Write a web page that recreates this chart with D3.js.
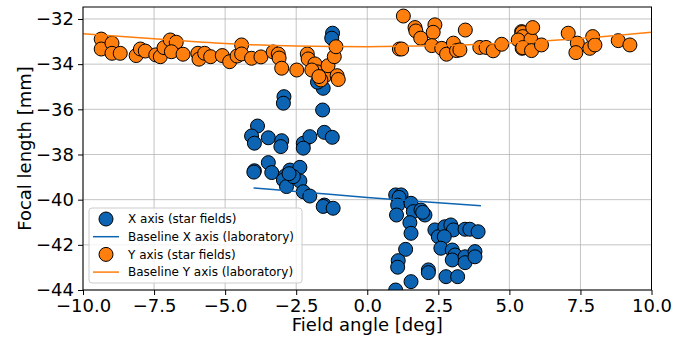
<!DOCTYPE html>
<html>
<head>
<meta charset="utf-8">
<script src="https://cdn.jsdelivr.net/npm/d3@7"></script>
<style>
  html, body { margin: 0; padding: 0; background: #fff; }
  svg { display: block; font-family: "DejaVu Sans", sans-serif; }
</style>
</head>
<body>
<svg id="chart" width="697" height="344"></svg>
<script>
// Focal length measured on star fields, X axis
const xStarAngle = [-1.22, -1.25, -2.93, -2.95, -1.55, -1.57, -1.75,
  -3.86, -4.07, -3.97, -3.48, -3.01, -3.04, -2.25, -2.02, -2.25, -1.51, -1.23,
  -3.97, -3.99, -3.48, -3.36, -2.72, -2.89, -2.37, -2.95, -2.84, -2.37, -2.60, -2.75,
  -2.25, -2.02, -1.51, -1.55, -1.20,
  1.00, 1.19, 1.12, 1.07, 1.03, 1.54, 1.62, 1.89, 2.03, 1.95, 1.50, 1.54, 1.35, 1.09, 1.07,
  1.54, 1.00, 2.15, 2.15, 2.38, 2.50, 2.73, 2.94, 3.03, 2.71, 2.59, 2.99, 3.09, 2.99,
  3.44, 3.61, 3.90, 3.44, 3.44, 3.79, 3.79, 2.77, 3.18];
const xStarFocal = [-32.63, -32.85, -35.44, -35.73, -35.07, -36.03, -34.80,
  -36.74, -37.18, -37.50, -37.26, -37.39, -37.65, -37.50, -37.21, -37.72, -37.02, -37.24,
  -38.72, -38.78, -38.36, -38.80, -38.69, -38.95, -38.57, -39.13, -39.42, -39.17, -38.98, -38.85,
  -39.65, -39.84, -40.24, -40.30, -40.38,
  -39.79, -39.79, -39.90, -40.24, -40.68, -40.16, -40.53, -40.46, -40.68, -40.56, -41.02, -41.49, -42.20, -42.70, -42.99,
  -43.63, -44.00, -43.11, -43.23, -41.34, -41.64, -41.20, -41.12, -41.34, -41.64, -42.15, -42.23, -42.45, -42.67,
  -41.31, -41.31, -41.42, -42.53, -42.79, -42.30, -42.53, -43.41, -43.41];

// Focal length measured on star fields, Y axis
const yStarAngle = [-9.36, -9.36, -8.98, -8.98, -8.69, -8.13, -7.98, -7.81, -7.44, -7.28, -7.15,
  -6.93, -6.72, -6.89, -6.48, -5.96, -5.92, -5.72, -5.51, -5.10, -4.84, -4.58, -4.42, -4.42,
  -4.07, -3.74, -3.31, -3.13, -3.10, -3.01, -2.48, -2.11, -2.08, -1.84, -1.76, -1.49, -1.38,
  -1.16, -1.10, -1.06, -1.02, -1.63, -1.95, -1.70,
  1.27, 1.13, 1.21, 1.68, 1.71, 1.88, 2.38, 2.32, 2.27, 2.62, 2.79, 3.03, 3.14, 3.26, 3.45,
  3.96, 4.18, 4.43, 4.73, 5.43, 5.45, 5.47, 5.31, 5.76, 5.82, 5.45, 5.47, 5.78, 6.13,
  7.07, 7.39, 7.34, 7.83, 7.93, 8.01, 8.83, 9.24];
const yStarFocal = [-32.89, -33.33, -33.07, -33.52, -33.52, -33.62, -33.33, -33.42, -33.59, -33.67, -33.27,
  -32.93, -33.03, -33.45, -33.56, -33.52, -33.78, -33.52, -33.67, -33.62, -33.89, -33.64, -33.15, -33.55,
  -33.74, -33.68, -33.46, -33.55, -33.73, -34.18, -34.26, -33.55, -33.77, -33.99, -34.34, -34.52, -34.07,
  -33.67, -33.23, -34.51, -34.68, -34.70, -34.26, -34.55,
  -31.87, -33.33, -33.33, -32.38, -32.53, -32.85, -32.26, -32.59, -33.18, -33.30, -33.56, -33.07, -33.40, -33.37, -32.49,
  -33.26, -33.26, -33.41, -33.12, -32.56, -32.60, -32.78, -32.93, -32.90, -32.38, -33.30, -33.27, -33.40, -33.15,
  -32.63, -33.07, -33.49, -33.30, -32.78, -33.15, -32.96, -33.15];

// Laboratory baselines
const baseXAngle = [-4.0, -2.0, 0.0, 2.0, 4.0];
const baseXFocal = [-39.48, -39.69, -39.90, -40.09, -40.27];
const baseYAngle = [-10, -7.5, -5, -2.5, 0, 2.5, 5, 7.5, 10];
const baseYFocal = [-32.65, -32.88, -33.09, -33.20, -33.23, -33.18, -33.06, -32.86, -32.59];

// Axis ticks
const xTicks = [-10, -7.5, -5, -2.5, 0, 2.5, 5, 7.5, 10];
const yTicks = [-44, -42, -40, -38, -36, -34, -32];

const blue = "#0d64b2";
const orange = "#ff7f0e";

const svg = d3.select("#chart");
const plotLeft = 83, plotRight = 651.5, plotTop = 7, plotBottom = 290;

const x = d3.scaleLinear().domain([-10, 10]).range([plotLeft, plotRight]);
const y = d3.scaleLinear().domain([-44, -31.47]).range([plotBottom, plotTop]);

svg.append("defs").append("clipPath").attr("id", "plot-clip")
  .append("rect").attr("x", plotLeft).attr("y", plotTop)
  .attr("width", plotRight - plotLeft).attr("height", plotBottom - plotTop);

// grid
const grid = svg.append("g").attr("stroke", "#b0b0b0").attr("stroke-opacity", 0.75).attr("stroke-width", 1);
grid.selectAll(".gx").data(xTicks).join("line")
  .attr("x1", d => x(d)).attr("x2", d => x(d)).attr("y1", plotTop).attr("y2", plotBottom);
grid.selectAll(".gy").data(yTicks).join("line")
  .attr("y1", d => y(d)).attr("y2", d => y(d)).attr("x1", plotLeft).attr("x2", plotRight);

// axes
const fmtX = d => d3.format(".1f")(d).replace("-", "\u2212");
const fmtY = d => d3.format("d")(d).replace("-", "\u2212");

const xAxis = svg.append("g").attr("transform", `translate(0,${plotBottom})`)
  .call(d3.axisBottom(x).tickValues(xTicks).tickFormat(fmtX).tickSize(5).tickPadding(4).tickSizeOuter(0));
const yAxis = svg.append("g").attr("transform", `translate(${plotLeft},0)`)
  .call(d3.axisLeft(y).tickValues(yTicks).tickFormat(fmtY).tickSize(5).tickPadding(4).tickSizeOuter(0));
[xAxis, yAxis].forEach(g => {
  g.select(".domain").remove();
  g.selectAll("line").attr("stroke", "#000").attr("stroke-width", 1);
  g.selectAll("text").attr("fill", "#000").style("font-size", "18px").style("font-family", "DejaVu Sans");
});
xAxis.selectAll("text").attr("dy", "0.72em");

// data layer
const plot = svg.append("g").attr("clip-path", "url(#plot-clip)");
const line = d3.line().x(d => x(d[0])).y(d => y(d[1])).curve(d3.curveMonotoneX);

plot.append("g").selectAll("circle").data(d3.zip(xStarAngle, xStarFocal)).join("circle")
  .attr("cx", d => x(d[0])).attr("cy", d => y(d[1])).attr("r", 7)
  .attr("fill", blue).attr("stroke", "#000").attr("stroke-width", 1);
plot.append("path").datum(d3.zip(baseXAngle, baseXFocal))
  .attr("d", line).attr("fill", "none").attr("stroke", blue).attr("stroke-width", 1.5);
plot.append("g").selectAll("circle").data(d3.zip(yStarAngle, yStarFocal)).join("circle")
  .attr("cx", d => x(d[0])).attr("cy", d => y(d[1])).attr("r", 7)
  .attr("fill", orange).attr("stroke", "#000").attr("stroke-width", 1);
plot.append("path").datum(d3.zip(baseYAngle, baseYFocal))
  .attr("d", line).attr("fill", "none").attr("stroke", orange).attr("stroke-width", 1.5);

// frame
svg.append("rect").attr("x", plotLeft).attr("y", plotTop)
  .attr("width", plotRight - plotLeft).attr("height", plotBottom - plotTop)
  .attr("fill", "none").attr("stroke", "#000").attr("stroke-width", 1);

// axis titles
svg.append("text").attr("x", (plotLeft + plotRight) / 2).attr("y", 331)
  .attr("text-anchor", "middle").style("font-size", "18px").text("Field angle [deg]");
svg.append("text").attr("transform", `translate(31,${(plotTop + plotBottom) / 2}) rotate(-90)`)
  .attr("text-anchor", "middle").style("font-size", "18px").text("Focal length [mm]");

// legend
const legend = svg.append("g");
legend.append("rect").attr("x", 89).attr("y", 208).attr("width", 213).attr("height", 75)
  .attr("rx", 3).attr("fill", "#fff").attr("fill-opacity", 0.8).attr("stroke", "#cccccc");
const entries = [
  {type: "dot", color: blue, label: "X axis (star fields)"},
  {type: "line", color: blue, label: "Baseline X axis (laboratory)"},
  {type: "dot", color: orange, label: "Y axis (star fields)"},
  {type: "line", color: orange, label: "Baseline Y axis (laboratory)"}
];
entries.forEach((e, i) => {
  const cy = 219 + i * 17.7;
  if (e.type === "dot") {
    legend.append("circle").attr("cx", 106).attr("cy", cy).attr("r", 7)
      .attr("fill", e.color).attr("stroke", "#000").attr("stroke-width", 1);
  } else {
    legend.append("line").attr("x1", 93).attr("x2", 119).attr("y1", cy).attr("y2", cy)
      .attr("stroke", e.color).attr("stroke-width", 1.5);
  }
  legend.append("text").attr("x", 128).attr("y", cy).attr("dy", "0.35em")
    .style("font-size", "12px").text(e.label);
});
</script>
</body>
</html>
